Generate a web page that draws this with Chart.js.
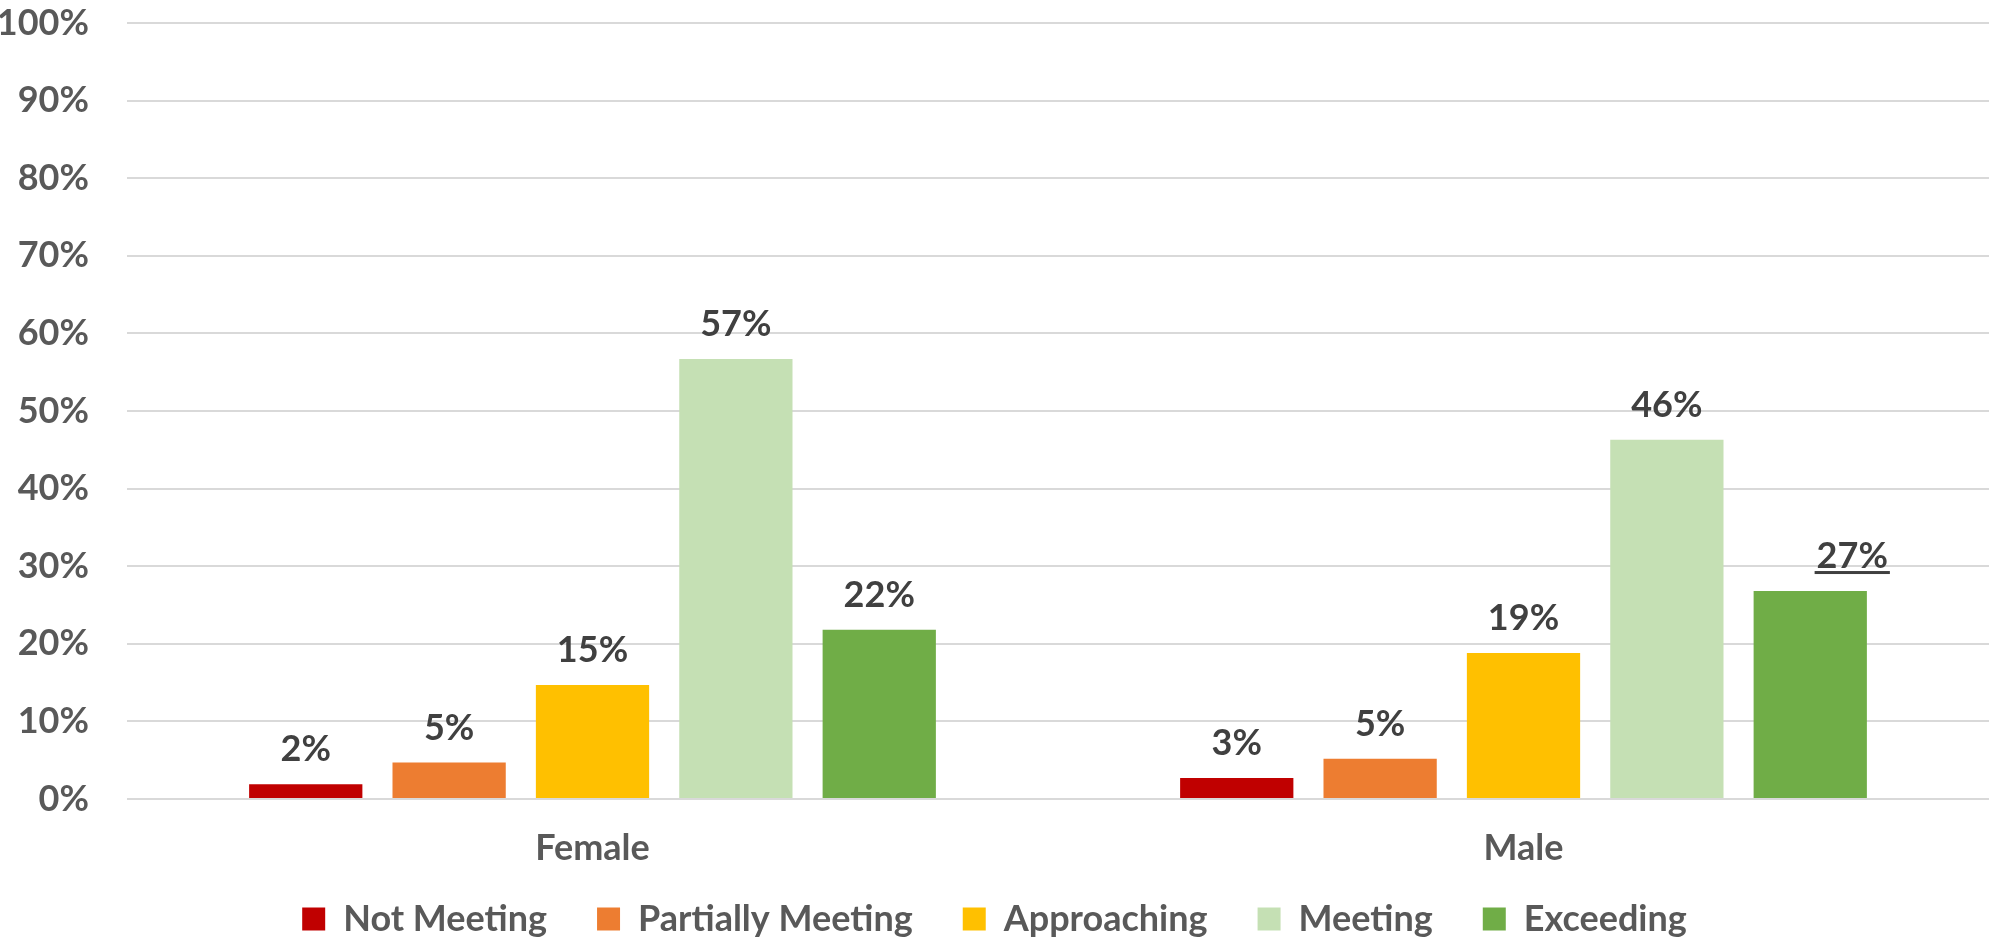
<!DOCTYPE html>
<html>
<head>
<meta charset="utf-8">
<script src="https://cdn.jsdelivr.net/npm/chart.js@4"></script>
<style>
  html, body { margin: 0; padding: 0; background: #ffffff; }
  #wrap { width: 1992px; height: 938px; }
</style>
</head>
<body>
<div id="wrap"><canvas id="c" width="1992" height="938"></canvas></div>
<script>
const categories = ["Female", "Male"];
const seriesNames = ["Not Meeting", "Partially Meeting", "Approaching", "Meeting", "Exceeding"];
const notMeeting = [1.9, 2.7];
const partiallyMeeting = [4.7, 5.2];
const approaching = [14.7, 18.8];
const meeting = [56.7, 46.3];
const exceeding = [21.8, 26.8];
const labelNotMeeting = ["2%", "3%"];
const labelPartially = ["5%", "5%"];
const labelApproaching = ["15%", "19%"];
const labelMeeting = ["57%", "46%"];
const labelExceeding = ["22%", "27%"];
const yTicks = [0, 10, 20, 30, 40, 50, 60, 70, 80, 90, 100];

const colors = ["#C00000", "#ED7D31", "#FFC000", "#C5E0B4", "#70AD47"];
const seriesValues = [notMeeting, partiallyMeeting, approaching, meeting, exceeding];
const seriesLabels = [labelNotMeeting, labelPartially, labelApproaching, labelMeeting, labelExceeding];

const FONT = "Lato, 'Open Sans', 'Liberation Sans', sans-serif";

const datasets = seriesNames.map((name, i) => ({
  label: name,
  data: seriesValues[i],
  valueLabels: seriesLabels[i],
  backgroundColor: colors[i],
  borderWidth: 0,
  categoryPercentage: 0.77,
  barPercentage: 0.79
}));

const barLabels = {
  id: 'barLabels',
  afterDatasetsDraw(chart) {
    const ctx = chart.ctx;
    ctx.save();
    ctx.font = "bold 36px " + FONT;
    ctx.fillStyle = "#404040";
    ctx.textAlign = "center";
    ctx.textBaseline = "alphabetic";
    chart.data.datasets.forEach((ds, di) => {
      const meta = chart.getDatasetMeta(di);
      meta.data.forEach((bar, i) => {
        const txt = ds.valueLabels[i];
        // the male "Exceeding" label is nudged right and underlined in the original
        const special = (di === 4 && i === 1);
        const x = bar.x + (special ? 42 : 0);
        const y = bar.y - 23;
        ctx.fillText(txt, x, y);
        if (special) {
          const w = ctx.measureText(txt).width;
          ctx.fillRect(x - w / 2 - 2, y + 3, w + 4, 3);
        }
      });
    });
    ctx.restore();
  }
};

const legendSizer = {
  id: 'legendSizer',
  beforeLayout(chart) {
    const lg = chart.legend;
    if (lg && !lg._wrapped) {
      const orig = lg.fit.bind(lg);
      lg.fit = function () { orig(); this.height = 66; };
      lg._wrapped = true;
    }
  },
  afterLayout(chart) {
    const lg = chart.legend;
    if (lg) {
      lg.top = 851;
      lg.bottom = 938;
      lg.height = 87;
    }
  }
};

new Chart(document.getElementById('c'), {
  type: 'bar',
  data: { labels: categories, datasets },
  plugins: [barLabels, legendSizer],
  options: {
    responsive: false,
    animation: false,
    devicePixelRatio: 1,
    layout: { padding: { top: 23, right: 3, bottom: 0, left: 0 } },
    plugins: {
      legend: {
        position: 'bottom',
        labels: {
          font: { family: FONT, size: 36, weight: 'bold' },
          color: '#595959',
          boxWidth: 23,
          boxHeight: 23,
          padding: 50
        }
      },
      tooltip: { enabled: false }
    },
    scales: {
      x: {
        grid: { display: false, drawTicks: false },
        border: { display: false },
        ticks: {
          font: { family: FONT, size: 36, weight: 'bold' },
          color: '#595959',
          padding: 28
        },
        afterFit(scale) { scale.height = 73; }
      },
      y: {
        min: 0,
        max: 100,
        afterBuildTicks(scale) { scale.ticks = yTicks.map(v => ({ value: v })); },
        grid: { color: '#D9D9D9', lineWidth: 2, drawTicks: false },
        border: { display: false },
        ticks: {
          font: { family: FONT, size: 36, weight: 'bold' },
          color: '#595959',
          padding: 38,
          callback: v => v + '%'
        },
        afterFit(scale) { scale.width = 127; scale.paddingTop = 0; scale.paddingBottom = 0; }
      }
    }
  }
});
</script>
</body>
</html>
